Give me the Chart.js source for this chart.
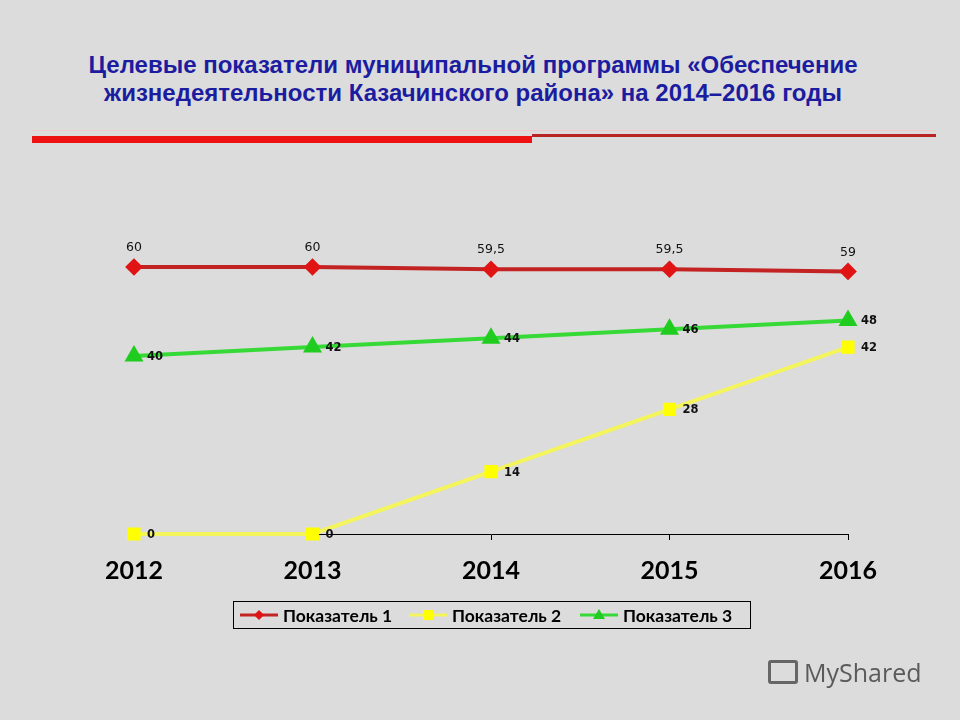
<!DOCTYPE html>
<html>
<head>
<meta charset="utf-8">
<script src="https://cdn.jsdelivr.net/npm/chart.js@4/dist/chart.umd.min.js"></script>
<style>
  body { margin: 0; background: #dcdcdc; }
  #wrap { position: relative; width: 960px; height: 720px; background: #dcdcdc; overflow: hidden; }
  #title { position: absolute; left: 0; top: 51px; width: 946px; text-align: center;
           font-family: "Liberation Sans", Arial, sans-serif;
           font-weight: bold; font-size: 24px; line-height: 28px; color: #1c1ca0; }
  #barThick { position: absolute; left: 32px; top: 136px; width: 500px; height: 7px; background: #ee1111; }
  #barThin { position: absolute; left: 532px; top: 134px; width: 404px; height: 3px; background: #b82424; }
  #barPale { position: absolute; left: 32px; top: 130px; width: 904px; height: 1px; background: #f0caca; }
  #logo { position: absolute; left: 768px; top: 655px; font-family: "Open Sans", sans-serif;
          font-size: 25px; color: #5a5a5a; }
  #logo span.ic { display: inline-block; width: 30px; height: 24px; border: 3px solid #666; border-radius: 3px;
          box-sizing: border-box; vertical-align: -2px; margin-right: 6px; }
  canvas { position: absolute; left: 0; top: 0; }
</style>
</head>
<body>
<div id="wrap">
  <div id="title">Целевые показатели муниципальной программы «Обеспечение<br>жизнедеятельности Казачинского района» на 2014–2016 годы</div>
  <div id="barPale"></div>
  <div id="barThick"></div>
  <div id="barThin"></div>
  <canvas id="myChart" width="960" height="720"></canvas>
  <div id="logo"><span class="ic"></span>MyShared</div>
</div>
<script>
var years = ["2012", "2013", "2014", "2015", "2016"];
var seriesNames = ["Показатель 1", "Показатель 2", "Показатель 3"];
var pokazatel1 = [60, 60, 59.5, 59.5, 59];
var pokazatel2 = [0, 0, 14, 28, 42];
var pokazatel3 = [40, 42, 44, 46, 48];

var lineColors = ["#c42323", "#f4f45c", "#36d936"];
var markColors = ["#e01414", "#ffff00", "#1fcc1f"];
var markStyles = ["rectRot", "rect", "triangle"];

// data labels + framed legend
var labelsPlugin = {
    id: 'labels',
    afterDatasetsDraw: function(chart) {
        var ctx = chart.ctx;
        ctx.save();
        ctx.fillStyle = "#111";
        chart.data.datasets.forEach(function(ds, i) {
            var meta = chart.getDatasetMeta(i);
            meta.data.forEach(function(pt, j) {
                var txt = String(ds.data[j]).replace(".", ",");
                ctx.textBaseline = "middle";
                if (i == 0) {
                    ctx.font = "12.5px 'DejaVu Sans'";
                    ctx.textAlign = "center";
                    ctx.fillText(txt, pt.x, pt.y - 19);
                } else {
                    ctx.font = "bold 11.5px 'DejaVu Sans'";
                    ctx.textAlign = "left";
                    ctx.fillText(txt, pt.x + 13, pt.y + 1);
                }
            });
        });
        ctx.restore();
    },
    afterDraw: function(chart) {
        var ctx = chart.ctx;
        ctx.save();
        ctx.strokeStyle = "#000";
        ctx.lineWidth = 1;
        ctx.strokeRect(233.5, 601.5, 517, 27);
        var xs = [240, 409, 580];
        ctx.font = "bold 17.5px Lato";
        ctx.textBaseline = "middle";
        ctx.textAlign = "left";
        for (var i = 0; i < 3; i++) {
            var x = xs[i], y = 615;
            ctx.strokeStyle = lineColors[i];
            ctx.lineWidth = 3;
            ctx.beginPath(); ctx.moveTo(x, y); ctx.lineTo(x + 38, y); ctx.stroke();
            ctx.fillStyle = markColors[i];
            ctx.beginPath();
            if (i == 0) { ctx.moveTo(x + 19, y - 5); ctx.lineTo(x + 24, y); ctx.lineTo(x + 19, y + 5); ctx.lineTo(x + 14, y); }
            else if (i == 1) { ctx.rect(x + 14, y - 5, 10, 10); }
            else { ctx.moveTo(x + 19, y - 6); ctx.lineTo(x + 25, y + 4); ctx.lineTo(x + 13, y + 4); }
            ctx.closePath(); ctx.fill();
            ctx.fillStyle = "#000";
            ctx.fillText(seriesNames[i], x + 43, y + 1);
        }
        ctx.restore();
    }
};

var ctx = document.getElementById("myChart").getContext('2d');

var myChart = new Chart(ctx, {
    type: 'line',
    data: {
        labels: years,
        datasets: [{
            label: seriesNames[0],
            data: pokazatel1,
            borderColor: lineColors[0],
            backgroundColor: markColors[0],
            pointBackgroundColor: markColors[0],
            pointBorderColor: markColors[0],
            pointStyle: markStyles[0],
            pointRadius: 6,
            borderWidth: 4,
            clip: false
        }, {
            label: seriesNames[1],
            data: pokazatel2,
            borderColor: lineColors[1],
            backgroundColor: markColors[1],
            pointBackgroundColor: markColors[1],
            pointBorderColor: markColors[1],
            pointStyle: markStyles[1],
            pointRadius: 6.5,
            borderWidth: 4,
            clip: false
        }, {
            label: seriesNames[2],
            data: pokazatel3,
            borderColor: lineColors[2],
            backgroundColor: markColors[2],
            pointBackgroundColor: markColors[2],
            pointBorderColor: markColors[2],
            pointStyle: markStyles[2],
            pointRadius: 7,
            borderWidth: 4,
            clip: false
        }]
    },
    options: {
        responsive: false,
        animation: false,
        layout: { padding: { left: 134, right: 112, top: 222.5, bottom: 136 } },
        plugins: { legend: { display: false }, tooltip: { enabled: false } },
        scales: {
            x: {
                offset: false,
                grid: { display: true, drawOnChartArea: false, drawTicks: true, tickLength: 6, color: "#000" },
                border: { display: true, color: "#000", width: 1 },
                ticks: { color: "#000", font: { family: "Lato", weight: "bold", size: 25 }, padding: 16 },
                afterFit: function(scale) { scale.height = 50; }
            },
            y: {
                display: false,
                min: 0,
                max: 70
            }
        }
    },
    plugins: [labelsPlugin]
});
</script>
</body>
</html>
